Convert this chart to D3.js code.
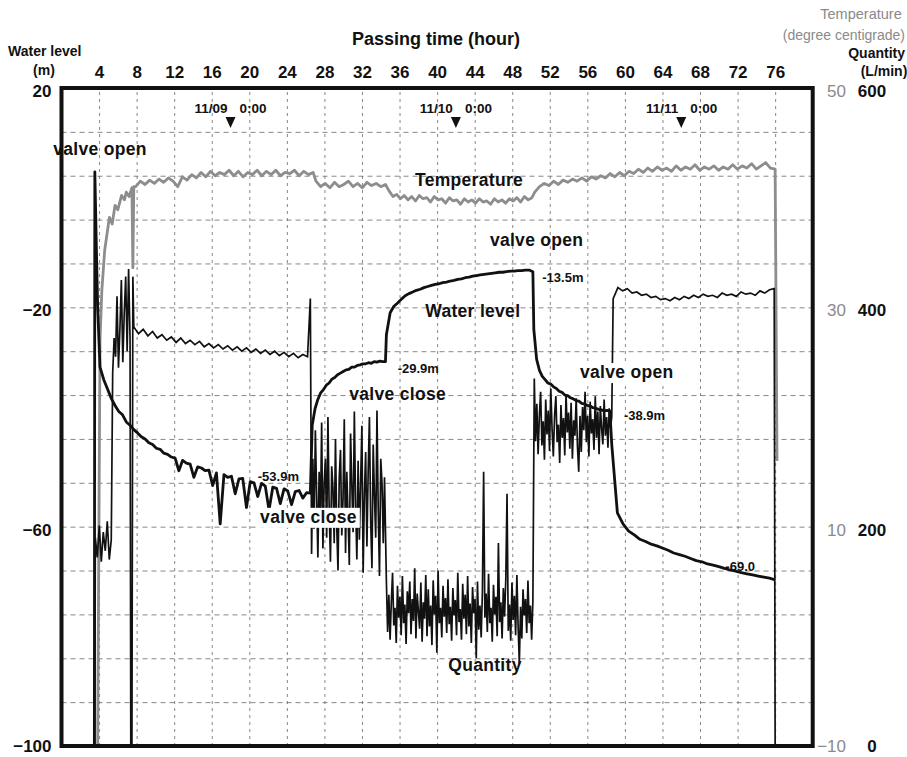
<!DOCTYPE html>
<html><head><meta charset="utf-8">
<script src="https://cdn.jsdelivr.net/npm/d3@7"></script>
<style>body{margin:0;background:#fff}svg{display:block;font-family:"Liberation Sans",Arial,Helvetica,sans-serif}</style>
</head><body>
<svg id="c" width="907" height="757"></svg>
<script>
// ---------------- DATA ----------------
const hourTicks = [4,8,12,16,20,24,28,32,36,40,44,48,52,56,60,64,68,72,76];
const levelTicks = [20,-20,-60,-100];
const tempTicks = [50,30,10,-10];
const qtyTicks = [600,400,200,0];
const gridLevels = [12,4,-4,-12,-20,-28,-36,-44,-52,-60,-68,-76,-84,-92];
const gridHours = [4,8,12,16,20,24,28,32,36,40,44,48,52,56,60,64,68,72,76];
const dateLabels = ["11/09","11/10","11/11"];
const dateHours = [18,42,66];

// Water level (m): explicit points + evenly sampled segments [tStart, tEnd, values]
const levelStart = [[3.5,-100],[3.55,4.7],[3.7,-8],[3.85,-20]];
const levelSeg1 = [4.1, 26.5, [-30.9,-33.2,-34.9,-36.6,-37.9,-39.0,-39.6,-40.9,-41.5,-42.3,-42.9,-43.6,-44.0,-44.7,-45.0,-45.7,-45.9,-46.6,-46.8,-47.3,-47.5,-49.8,-47.9,-48.4,-48.6,-51.0,-49.1,-49.3,-49.8,-49.7,-52.5,-50.2,-59.5,-50.5,-51.0,-50.8,-54.0,-51.3,-51.2,-56.5,-51.8,-52.0,-54.5,-52.1,-52.6,-57.0,-52.8,-53.0,-55.8,-53.1,-53.5,-56.0,-53.6,-53.4,-54.8,-53.8,-53.9]];
const levelSeg2 = [26.7, 34.5, [-41.5,-38.5,-36.8,-35.6,-35.0,-34.2,-33.8,-33.1,-32.8,-32.3,-32.0,-31.7,-31.4,-31.3,-30.9,-30.9,-30.6,-30.5,-30.3,-30.3,-30.1,-30.2,-29.9,-30.0,-29.8,-29.9,-29.9]];
const levelSeg3 = [34.6, 50.2, [-25.0,-21.0,-19.8,-19.2,-18.5,-17.9,-17.5,-17.2,-16.9,-16.7,-16.4,-16.2,-16.0,-15.8,-15.7,-15.5,-15.4,-15.2,-15.1,-14.9,-14.8,-14.6,-14.5,-14.3,-14.2,-14.1,-14.0,-13.9,-13.8,-13.7,-13.6,-13.6,-13.5,-13.4,-13.4,-13.3,-13.3,-13.2,-13.2,-13.5]];
const levelSeg4 = [50.3, 58.4, [-24.0,-29.5,-31.5,-32.6,-33.2,-33.8,-34.0,-34.5,-34.8,-35.3,-35.5,-36.0,-36.1,-36.5,-36.7,-37.0,-37.1,-37.5,-37.6,-37.9,-38.0,-38.3,-38.4,-38.6,-38.7,-38.9,-38.8,-38.9]];
const levelSeg5 = [58.6, 76.0, [-45.0,-57.5,-59.5,-60.8,-61.5,-62.3,-62.7,-63.2,-63.5,-63.9,-64.3,-64.8,-65.1,-65.4,-65.8,-66.2,-66.4,-66.8,-67.0,-67.3,-67.6,-67.9,-68.1,-68.4,-68.6,-68.8,-69.0,-69.2,-69.4,-69.7]];

// Temperature (degree centigrade)
const tempStart = [[3.85,-10],[4.1,27.0],[4.3,31.6],[4.6,35.2],[5.1,38.2],[5.4,37.6],[5.7,39.3],[6.0,38.9],[6.4,40.2],[6.7,39.8],[6.9,40.5],[7.2,40.1],[7.5,40.9],[7.6,33.6],[7.7,41.0]];
const tempSeg1 = [7.9, 26.8, [41.0,41.5,41.2,41.6,41.3,41.7,41.4,41.8,41.5,41.0,41.9,41.6,42.1,41.8,42.3,41.9,42.4,42.0,42.3,42.1,42.5,42.0,42.4,41.9,42.3,42.1,42.5,42.0,42.4,42.1,42.5,42.0,42.3,42.2,42.5,42.0,42.4,42.1,42.3]];
const tempSeg2 = [27.1, 34.5, [41.5,41.0,41.3,40.9,41.4,41.0,41.2,41.5,41.0,41.3,40.9,41.4,41.1,41.3,41.0,41.2]];
const tempSeg3 = [34.9, 50.1, [40.6,40.1,40.3,39.9,40.2,39.8,40.1,39.7,40.2,39.9,40.0,39.6,40.1,39.8,39.9,39.5,40.0,39.7,39.8,39.4,39.9,39.6,39.8,39.5,39.9,39.6,39.7,39.4,39.9,39.6,39.8,39.5,39.9,39.7,40.0,39.6,40.1,39.8,40.0]];
const tempSeg4 = [50.4, 76.0, [40.5,41.0,41.3,41.1,41.5,41.2,41.6,41.4,41.7,41.5,41.8,41.5,41.9,41.7,42.0,41.8,42.2,41.9,42.3,42.0,42.4,42.2,42.6,42.3,42.7,42.4,42.8,42.5,42.7,42.4,42.9,42.5,42.8,42.6,43.0,42.5,42.8,42.6,42.9,42.5,42.8,42.6,43.0,42.6,42.9,42.7,43.1,42.6,42.9,43.2,42.7,42.6]];
const tempEnd = [[76.2,16.0]];

// Quantity (L/min)
const qtyStart = [[3.45,0],[3.55,0]];
const qtySeg1 = [3.6, 5.3, [190,172,201,168,195,178,205,170,188]];
const qtySeg2 = [5.45, 7.3, [340,372,355,410,345,380,425,350,395,428,360,435,372]];
const qtyGap = [[7.38,0],[7.5,0],[7.6,428]];
const qtySeg3 = [7.7, 26.2, [382,376,380,374,378,372,375,370,373,368,372,367,370,366,369,364,367,363,366,362,365,361,364,360,363,359,362,358,361,357,360,356,359,355,358,354,357,355]];
const qtySeg4 = [26.5, 34.4, [408,175,262,198,288,230,172,250,205,295,
  180,240,262,190,300,215,168,255,235,185,
  280,200,160,245,270,192,225,298,176,250,
  210,165,285,238,195,305,220,170,260,188,
  240,292,158,230,268,182,250,300,205,162,
  275,228,190,306,215,155,262,240,185,245]];
const qtySeg5 = [34.6, 50.2, [150,104,138,97,131,158,110,126,94,146,
  117,136,101,155,112,129,93,141,121,150,
  102,134,114,162,98,139,123,107,149,95,
  131,116,156,100,143,109,128,92,151,120,
  137,85,160,112,126,99,146,118,135,103,
  152,111,127,96,144,119,133,101,158,113,
  125,97,148,116,138,102,155,109,130,94,
  145,121,134,80,150,106,128,99,141,250,
  117,139,104,157,112,126,95,147,120,136,
  100,185,113,131,98,144,118,152,230,105,
  129,96,149,115,137,101,156,110,75,127,
  98,143,119,134,103,151,112,128,97,132]];
const qtySeg6 = [50.35, 58.6, [335,278,312,266,301,323,274,296,261,316,
  284,306,269,326,289,264,302,319,277,293,
  258,311,281,299,265,321,286,304,271,313,
  262,297,283,317,273,250,301,268,309,288,
  323,277,301,264,314,285,298,270,319,281,
  305,266,310,290,275,316,283,300,272,308,
  290,300]];
const qtySeg7 = [58.75, 75.9, [408,418,415,417,413,414,411,412,409,410,407,408,406,409,407,410,408,411,409,412,410,411,409,413,411,412,410,414,412,413,411,415,413,416,417]];
const qtyEnd = [[76.0,0],[76.1,0]];

// ---------------- CHART ----------------
const svg = d3.select("#c");
const FONT = '"Liberation Sans",Arial,Helvetica,sans-serif';
const x = d3.scaleLinear().domain([0,80]).range([61.5,812.7]);
const yL = d3.scaleLinear().domain([-100,20]).range([746,88]);
const yT = d3.scaleLinear().domain([-10,50]).range([746,88]);
const yQ = d3.scaleLinear().domain([0,600]).range([746,88]);

function seg(s){ const [t0,t1,v]=s; const n=v.length; return v.map((val,i)=>[t0+(t1-t0)*i/(n-1), val]); }
const levelData = [...levelStart, ...seg(levelSeg1), ...seg(levelSeg2), ...seg(levelSeg3), ...seg(levelSeg4), ...seg(levelSeg5)];
const tempData = [...tempStart, ...seg(tempSeg1), ...seg(tempSeg2), ...seg(tempSeg3), ...seg(tempSeg4), ...tempEnd];
const qtyData = [...qtyStart, ...seg(qtySeg1), ...seg(qtySeg2), ...qtyGap, ...seg(qtySeg3), ...seg(qtySeg4), ...seg(qtySeg5), ...seg(qtySeg6), ...seg(qtySeg7), ...qtyEnd];

// grid
const grid = svg.append("g");
grid.append("g").attr("transform",`translate(${x(0)},0)`)
  .call(d3.axisLeft(yL).tickValues(gridLevels).tickSize(-(x(80)-x(0))).tickFormat(""))
  .call(g=>g.select(".domain").remove())
  .call(g=>g.selectAll("line").attr("stroke","#6a6a6a").attr("stroke-width",0.8).attr("stroke-dasharray","5,4"));
grid.append("g").attr("transform",`translate(0,${yL(-100)})`)
  .call(d3.axisBottom(x).tickValues(gridHours).tickSize(-(yL(-100)-yL(20))).tickFormat(""))
  .call(g=>g.select(".domain").remove())
  .call(g=>g.selectAll("line").attr("stroke","#6a6a6a").attr("stroke-width",0.8).attr("stroke-dasharray","3,4"));

// series
svg.append("path").datum(tempData).attr("fill","none").attr("stroke","#8d8d8d").attr("stroke-width",2.8).attr("stroke-linejoin","round")
  .attr("d", d3.line().x(d=>x(d[0])).y(d=>yT(d[1])));
svg.append("path").datum(levelData).attr("fill","none").attr("stroke","#111").attr("stroke-width",2.8).attr("stroke-linejoin","round")
  .attr("d", d3.line().x(d=>x(d[0])).y(d=>yL(d[1])));
svg.append("path").datum(qtyData).attr("fill","none").attr("stroke","#111").attr("stroke-width",1.7).attr("stroke-linejoin","miter")
  .attr("d", d3.line().x(d=>x(d[0])).y(d=>yQ(d[1])));

// frame
svg.append("rect").attr("x",x(0)).attr("y",yL(20)).attr("width",x(80)-x(0)).attr("height",yL(-100)-yL(20))
  .attr("fill","none").attr("stroke","#111").attr("stroke-width",4);

// axes
function styleText(g, size, weight, fill){ g.selectAll("text").attr("font-family",FONT).attr("font-size",size).attr("font-weight",weight).attr("fill",fill); }
const lastDy = (d,i,n)=> i===n.length-1 ? "0.35em" : "0.5em";
svg.append("g").attr("transform",`translate(0,${yL(20)})`)
  .call(d3.axisTop(x).tickValues(hourTicks).tickSize(0).tickPadding(10))
  .call(g=>g.select(".domain").remove())
  .call(g=>styleText(g,17,"bold","#111"));
svg.append("g").attr("transform",`translate(${x(0)},0)`)
  .call(d3.axisLeft(yL).tickValues(levelTicks).tickSize(0).tickPadding(10))
  .call(g=>g.select(".domain").remove())
  .call(g=>{styleText(g,17,"bold","#111"); g.selectAll("text").attr("dy",lastDy);});
svg.append("g").attr("transform",`translate(${x(80)},0)`)
  .call(d3.axisRight(yT).tickValues(tempTicks).tickSize(0).tickPadding(10))
  .call(g=>g.select(".domain").remove())
  .call(g=>{styleText(g,17,"normal","#8a8a8a"); g.selectAll("text").attr("text-anchor","end").attr("x",846-x(80)).attr("dy",lastDy);});
svg.append("g").attr("transform",`translate(${x(80)},0)`)
  .call(d3.axisRight(yQ).tickValues(qtyTicks).tickSize(0).tickPadding(10))
  .call(g=>g.select(".domain").remove())
  .call(g=>{styleText(g,17,"bold","#111"); g.selectAll("text").attr("text-anchor","middle").attr("x",872-x(80)).attr("dy",lastDy);});

// titles
function txt(s, px, py, size, weight, fill, anchor){
  return svg.append("text").attr("x",px).attr("y",py).attr("font-family",FONT).attr("font-size",size)
    .attr("font-weight",weight).attr("fill",fill).attr("text-anchor",anchor||"start").text(s);
}
txt("Passing time (hour)", 436, 45, 18, "bold", "#111", "middle");
txt("Water level", 8, 56, 14, "bold", "#111", "start");
txt("(m)", 44, 75, 14, "bold", "#111", "middle");
txt("Temperature", 861, 19, 14.5, "normal", "#8a8a8a", "middle");
txt("(degree centigrade)", 905, 40, 14, "normal", "#8a8a8a", "end");
txt("Quantity", 905, 57.5, 14, "bold", "#111", "end");
txt("(L/min)", 884, 76, 14, "bold", "#111", "middle");

// date markers
dateHours.forEach((h,i)=>{
  const cx = x(h);
  txt(dateLabels[i], cx-3, 113, 13.5, "bold", "#111", "end");
  txt("0:00", cx+9, 113, 13.5, "bold", "#111", "start");
  svg.append("path").attr("d",`M${cx-5},${117}L${cx+5},${117}L${cx},${128}Z`).attr("fill","#111");
});

// annotations (data coordinates: hour, water level)
const annotations = [
  {t:"valve open", h:4.1, lv:7.8, big:true, anchor:"middle"},
  {t:"Temperature", h:43.4, lv:2.1, big:true, anchor:"middle"},
  {t:"valve open", h:50.6, lv:-8.8, big:true, anchor:"middle"},
  {t:"-13.5m", h:51.2, lv:-15.4, big:false, anchor:"start"},
  {t:"Water level", h:43.8, lv:-21.8, big:true, anchor:"middle"},
  {t:"-29.9m", h:35.8, lv:-32.0, big:false, anchor:"start"},
  {t:"valve close", h:35.8, lv:-36.9, big:true, anchor:"middle"},
  {t:"-53.9m", h:20.9, lv:-51.7, big:false, anchor:"start"},
  {t:"valve close", h:26.3, lv:-59.3, big:true, anchor:"middle", box:true},
  {t:"valve open", h:60.2, lv:-32.9, big:true, anchor:"middle", box:true},
  {t:"-38.9m", h:59.9, lv:-40.6, big:false, anchor:"start"},
  {t:"-69.0", h:70.7, lv:-68.1, big:false, anchor:"start"},
  {t:"Quantity", h:45.1, lv:-86.3, big:true, anchor:"middle"}
];
annotations.forEach(a=>{
  const g = svg.append("g");
  const t = g.append("text").attr("x",x(a.h)).attr("y",yL(a.lv)).attr("font-family",FONT)
    .attr("font-size",a.big?17.5:13).attr("font-weight","bold").attr("fill","#111")
    .attr("letter-spacing",a.big?0.3:0).attr("text-anchor",a.anchor).text(a.t);
  if(a.box){
    const b = t.node().getBBox();
    g.insert("rect","text").attr("x",b.x-3).attr("y",b.y+1).attr("width",b.width+6).attr("height",b.height).attr("fill","#fff");
  }
});
</script>
</body></html>
